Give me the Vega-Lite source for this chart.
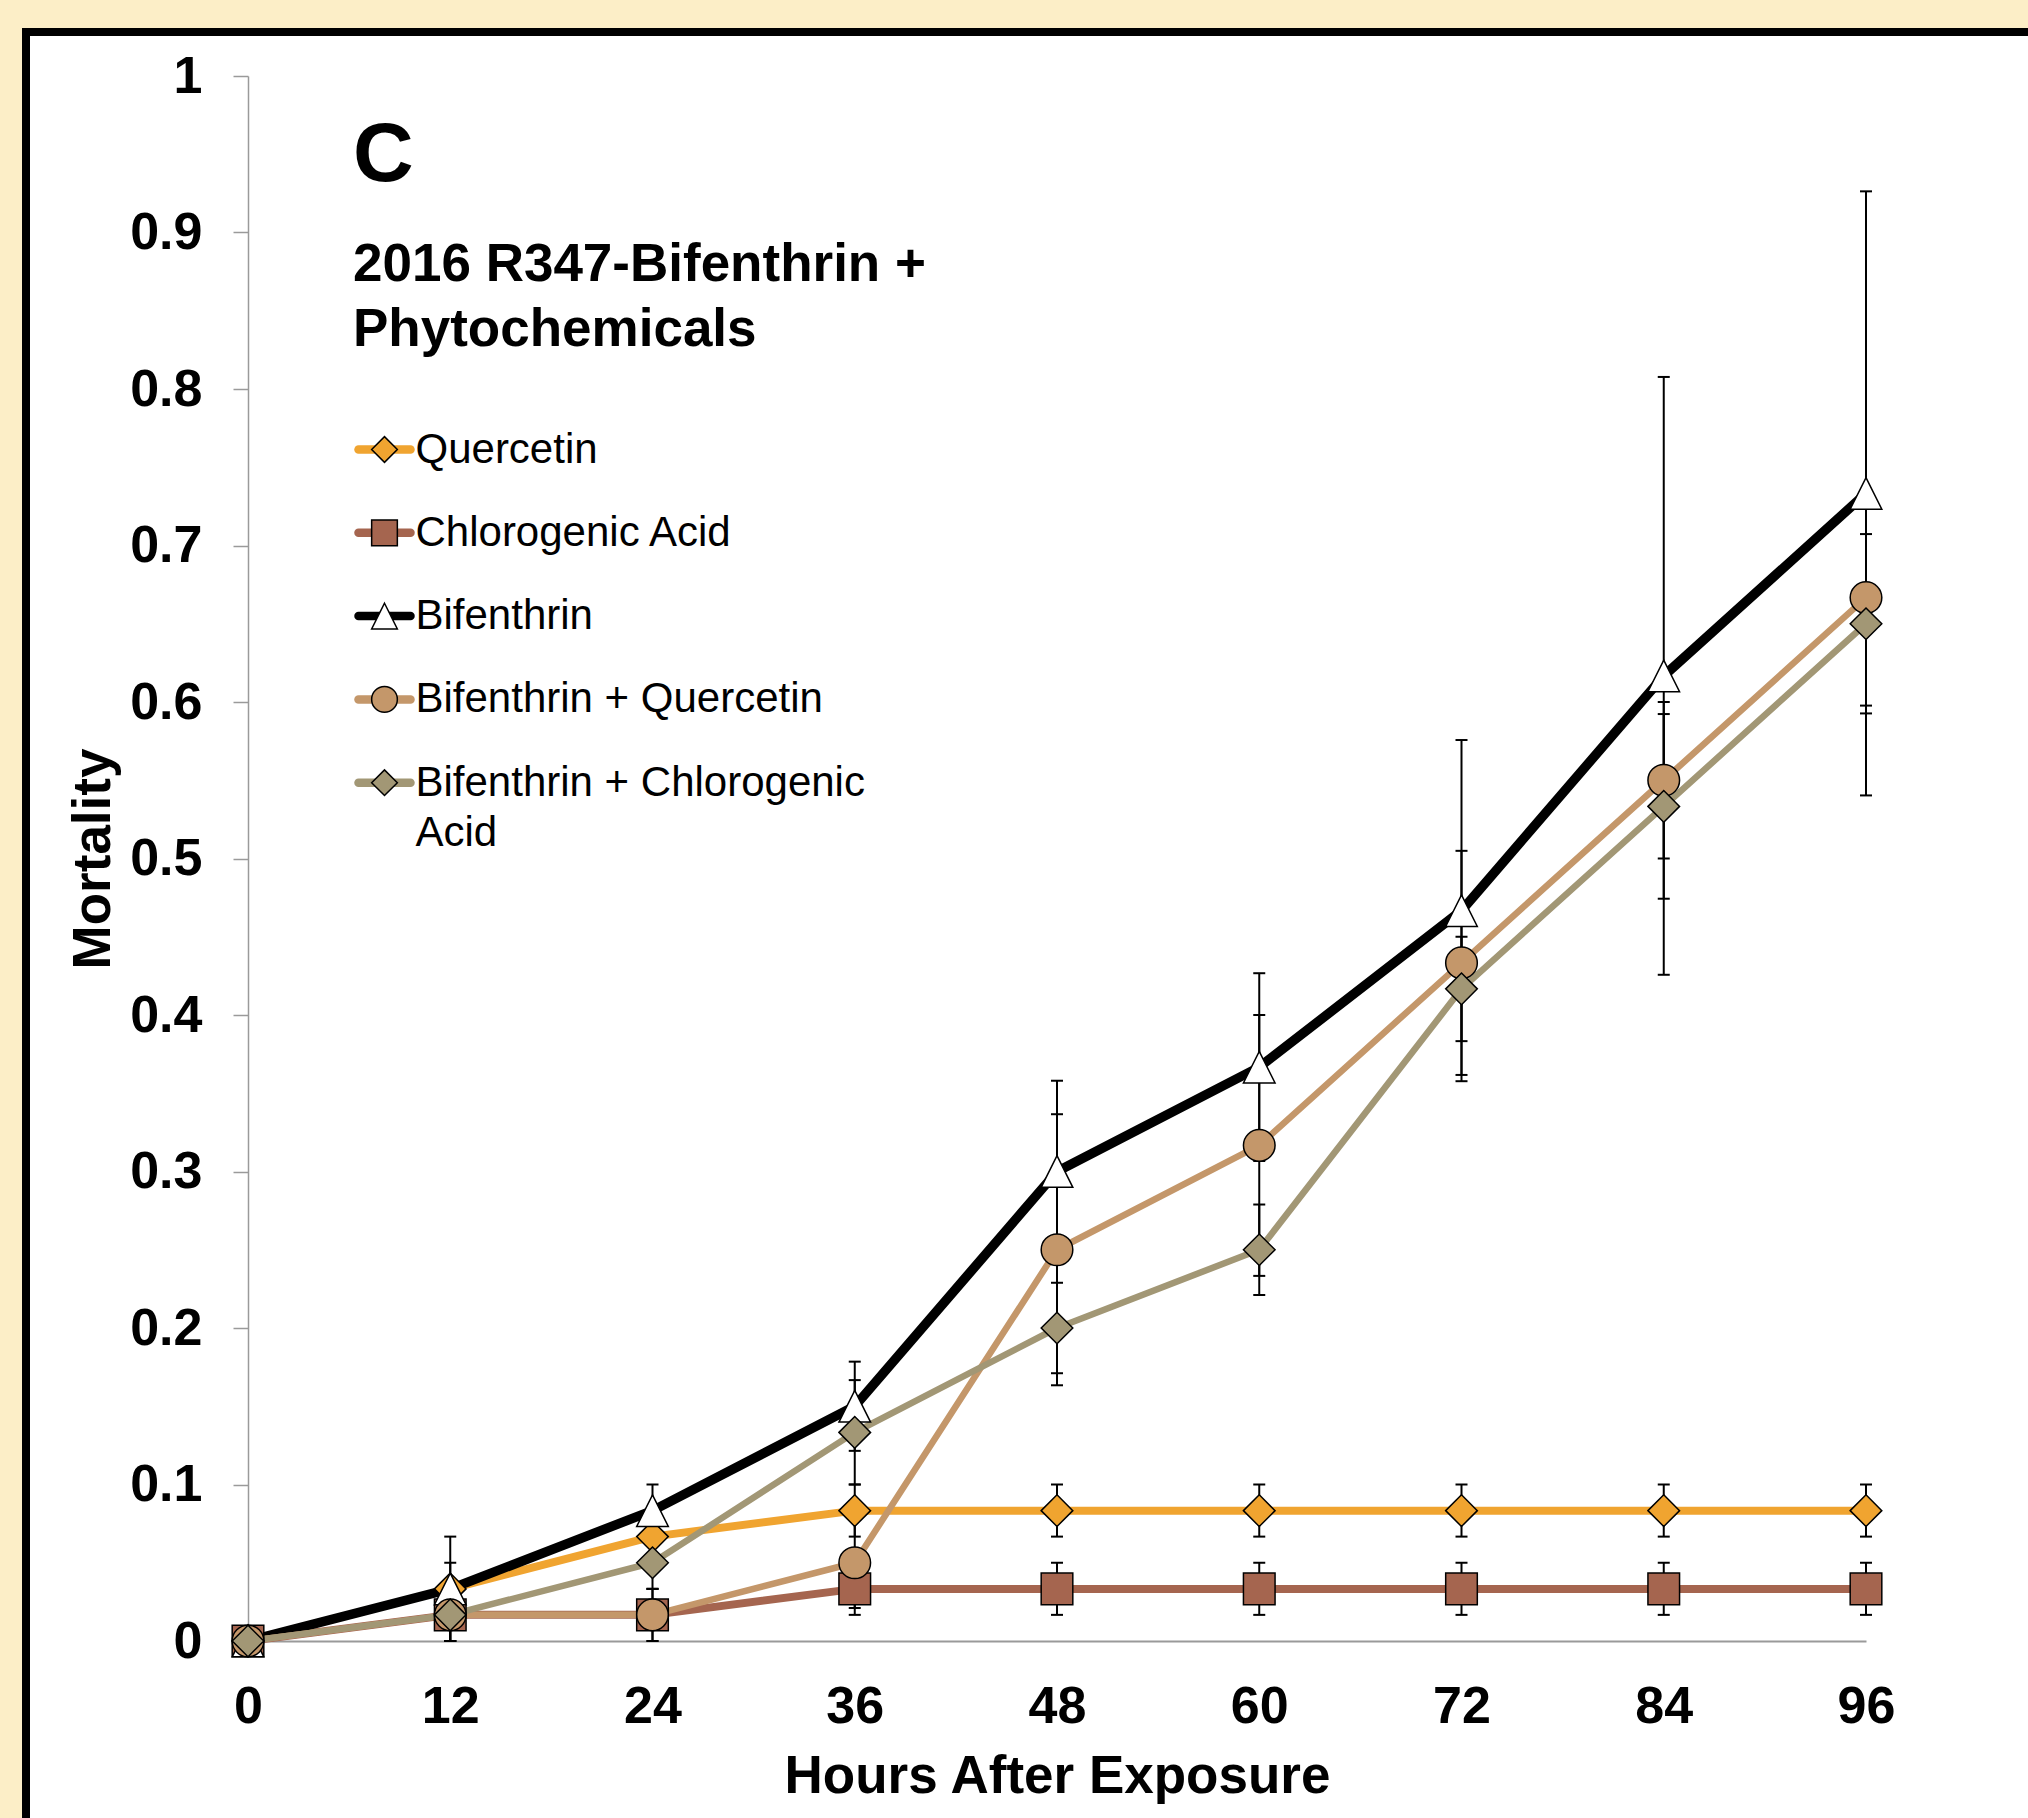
{
  "$schema": "https://vega.github.io/schema/vega-lite/v6.json",
  "autosize": {"type": "none"},
  "width": 2032,
  "height": 1816,
  "padding": {"left": 26, "top": 32, "right": -30, "bottom": -30},
  "background": "#FCEEC7",
  "title": {
    "text": "C",
    "subtitle": ["2016 R347-Bifenthrin +", "Phytochemicals"],
    "anchor": "start",
    "frame": "group",
    "orient": "top",
    "font": "Liberation Sans",
    "fontSize": 84,
    "fontWeight": "bold",
    "color": "black",
    "subtitleFont": "Liberation Sans",
    "subtitleFontSize": 53,
    "subtitleFontWeight": "bold",
    "subtitleColor": "black",
    "subtitleLineHeight": 65,
    "subtitlePadding": 40,
    "dx": 327,
    "offset": -326
  },
  "data": {
    "values": [
      {"series": "Quercetin", "hours": 0, "mortality": 0, "lo": 0, "hi": 0},
      {"series": "Quercetin", "hours": 12, "mortality": 0.0333, "lo": 0.0167, "hi": 0.05},
      {"series": "Quercetin", "hours": 24, "mortality": 0.0667, "lo": 0.05, "hi": 0.0833},
      {"series": "Quercetin", "hours": 36, "mortality": 0.0833, "lo": 0.0667, "hi": 0.1},
      {"series": "Quercetin", "hours": 48, "mortality": 0.0833, "lo": 0.0667, "hi": 0.1},
      {"series": "Quercetin", "hours": 60, "mortality": 0.0833, "lo": 0.0667, "hi": 0.1},
      {"series": "Quercetin", "hours": 72, "mortality": 0.0833, "lo": 0.0667, "hi": 0.1},
      {"series": "Quercetin", "hours": 84, "mortality": 0.0833, "lo": 0.0667, "hi": 0.1},
      {"series": "Quercetin", "hours": 96, "mortality": 0.0833, "lo": 0.0667, "hi": 0.1},
      {"series": "Chlorogenic Acid", "hours": 0, "mortality": 0, "lo": 0, "hi": 0},
      {"series": "Chlorogenic Acid", "hours": 12, "mortality": 0.0167, "lo": 0, "hi": 0.0333},
      {"series": "Chlorogenic Acid", "hours": 24, "mortality": 0.0167, "lo": 0, "hi": 0.0333},
      {"series": "Chlorogenic Acid", "hours": 36, "mortality": 0.0333, "lo": 0.0167, "hi": 0.05},
      {"series": "Chlorogenic Acid", "hours": 48, "mortality": 0.0333, "lo": 0.0167, "hi": 0.05},
      {"series": "Chlorogenic Acid", "hours": 60, "mortality": 0.0333, "lo": 0.0167, "hi": 0.05},
      {"series": "Chlorogenic Acid", "hours": 72, "mortality": 0.0333, "lo": 0.0167, "hi": 0.05},
      {"series": "Chlorogenic Acid", "hours": 84, "mortality": 0.0333, "lo": 0.0167, "hi": 0.05},
      {"series": "Chlorogenic Acid", "hours": 96, "mortality": 0.0333, "lo": 0.0167, "hi": 0.05},
      {"series": "Bifenthrin", "hours": 0, "mortality": 0, "lo": 0, "hi": 0},
      {"series": "Bifenthrin", "hours": 12, "mortality": 0.0333, "lo": 0, "hi": 0.0667},
      {"series": "Bifenthrin", "hours": 24, "mortality": 0.0833, "lo": 0.0667, "hi": 0.1},
      {"series": "Bifenthrin", "hours": 36, "mortality": 0.15, "lo": 0.1215, "hi": 0.1785},
      {"series": "Bifenthrin", "hours": 48, "mortality": 0.3, "lo": 0.242, "hi": 0.358},
      {"series": "Bifenthrin", "hours": 60, "mortality": 0.3667, "lo": 0.3067, "hi": 0.4267},
      {"series": "Bifenthrin", "hours": 72, "mortality": 0.4667, "lo": 0.3577, "hi": 0.5757},
      {"series": "Bifenthrin", "hours": 84, "mortality": 0.6167, "lo": 0.4257, "hi": 0.8077},
      {"series": "Bifenthrin", "hours": 96, "mortality": 0.7333, "lo": 0.5403, "hi": 0.9263},
      {"series": "Bifenthrin + Quercetin", "hours": 0, "mortality": 0, "lo": 0, "hi": 0},
      {"series": "Bifenthrin + Quercetin", "hours": 12, "mortality": 0.0167, "lo": 0, "hi": 0.0333},
      {"series": "Bifenthrin + Quercetin", "hours": 24, "mortality": 0.0167, "lo": 0, "hi": 0.0333},
      {"series": "Bifenthrin + Quercetin", "hours": 36, "mortality": 0.05, "lo": 0.0211, "hi": 0.0789},
      {"series": "Bifenthrin + Quercetin", "hours": 48, "mortality": 0.25, "lo": 0.1634, "hi": 0.3366},
      {"series": "Bifenthrin + Quercetin", "hours": 60, "mortality": 0.3167, "lo": 0.2333, "hi": 0.4},
      {"series": "Bifenthrin + Quercetin", "hours": 72, "mortality": 0.4333, "lo": 0.3617, "hi": 0.5049},
      {"series": "Bifenthrin + Quercetin", "hours": 84, "mortality": 0.55, "lo": 0.5, "hi": 0.6},
      {"series": "Bifenthrin + Quercetin", "hours": 96, "mortality": 0.6667, "lo": 0.5977, "hi": 0.7357},
      {"series": "Bifenthrin + Chlorogenic Acid", "hours": 0, "mortality": 0, "lo": 0, "hi": 0},
      {"series": "Bifenthrin + Chlorogenic Acid", "hours": 12, "mortality": 0.0167, "lo": 0, "hi": 0.0333},
      {"series": "Bifenthrin + Chlorogenic Acid", "hours": 24, "mortality": 0.05, "lo": 0.0333, "hi": 0.0667},
      {"series": "Bifenthrin + Chlorogenic Acid", "hours": 36, "mortality": 0.1333, "lo": 0.1, "hi": 0.1667},
      {"series": "Bifenthrin + Chlorogenic Acid", "hours": 48, "mortality": 0.2, "lo": 0.1711, "hi": 0.2289},
      {"series": "Bifenthrin + Chlorogenic Acid", "hours": 60, "mortality": 0.25, "lo": 0.2211, "hi": 0.2789},
      {"series": "Bifenthrin + Chlorogenic Acid", "hours": 72, "mortality": 0.4167, "lo": 0.3833, "hi": 0.45},
      {"series": "Bifenthrin + Chlorogenic Acid", "hours": 84, "mortality": 0.5333, "lo": 0.4743, "hi": 0.5923},
      {"series": "Bifenthrin + Chlorogenic Acid", "hours": 96, "mortality": 0.65, "lo": 0.5927, "hi": 0.7073}
    ]
  },
  "layer": [
    {
      "transform": [{"filter": {"field": "series", "oneOf": ["Quercetin", "Chlorogenic Acid"]}}],
      "mark": {"type": "line", "strokeWidth": 8, "strokeJoin": "round", "strokeCap": "round"},
      "encoding": {
        "x": {
          "field": "hours", "type": "quantitative",
          "scale": {"domain": [0, 96], "range": [222, 1840], "nice": false, "zero": false},
          "axis": {
            "orient": "bottom", "offset": -207,
            "values": [0, 12, 24, 36, 48, 60, 72, 84, 96],
            "title": "Hours After Exposure",
            "ticks": false, "grid": false,
            "labelFlush": false, "labelOverlap": false,
            "labelPadding": 40, "labelFontSize": 52, "labelFontWeight": "bold",
            "labelColor": "black", "labelFont": "Liberation Sans",
            "domainColor": "#9A9A9A", "domainWidth": 2,
            "titleFontSize": 53, "titleFontWeight": "bold", "titleColor": "black",
            "titleFont": "Liberation Sans", "titlePadding": 18
          }
        },
        "y": {
          "field": "mortality", "type": "quantitative", "title": "Mortality",
          "scale": {"domain": [0, 1], "range": [1609, 44], "nice": false, "zero": false},
          "axis": {
            "orient": "left", "offset": -222,
            "values": [0, 0.1, 0.2, 0.3, 0.4, 0.5, 0.6, 0.7, 0.8, 0.9, 1],
            "format": "~g",
            "ticks": true, "tickSize": 15, "tickColor": "#9A9A9A", "tickWidth": 1.5,
            "grid": false, "labelFlush": false, "labelOverlap": false,
            "labelPadding": 31, "labelFontSize": 52, "labelFontWeight": "bold",
            "labelColor": "black", "labelFont": "Liberation Sans",
            "domainColor": "#9A9A9A", "domainWidth": 1.5,
            "titleFontSize": 53, "titleFontWeight": "bold", "titleColor": "black",
            "titleFont": "Liberation Sans", "titlePadding": 9
          }
        },
        "stroke": {
          "field": "series", "type": "nominal",
          "scale": {
            "domain": ["Quercetin", "Chlorogenic Acid", "Bifenthrin", "Bifenthrin + Quercetin", "Bifenthrin + Chlorogenic Acid"],
            "range": ["#F0A430", "#A5654F", "#000000", "#C4976A", "#A29775"]
          },
          "legend": {
            "orient": "none", "legendX": 332, "legendY": 396.5, "direction": "vertical",
            "title": null, "padding": 0, "rowPadding": 41.3, "zindex": 1,
            "symbolType": "M-2,0L2,0", "symbolSize": 676, "symbolStrokeWidth": 8.5,
            "symbolOffset": 5.5, "labelOffset": 10,
            "labelFontSize": 42, "labelFont": "Liberation Sans", "labelColor": "black", "labelLimit": 0,
            "labelExpr": "datum.label == 'Bifenthrin + Chlorogenic Acid' ? ['Bifenthrin + Chlorogenic', 'Acid'] : datum.label",
            "encode": {
              "symbols": {"update": {"strokeCap": {"value": "round"}}},
              "labels": {"update": {"lineHeight": {"value": 50}}}
            }
          }
        }
      }
    },
    {
      "transform": [{"filter": {"field": "series", "equal": "Bifenthrin"}}],
      "mark": {"type": "line", "strokeWidth": 9.5, "strokeJoin": "round", "strokeCap": "round"},
      "encoding": {
        "x": {"field": "hours", "type": "quantitative"},
        "y": {"field": "mortality", "type": "quantitative", "title": "Mortality"},
        "stroke": {
          "field": "series", "type": "nominal",
          "scale": {
            "domain": ["Quercetin", "Chlorogenic Acid", "Bifenthrin", "Bifenthrin + Quercetin", "Bifenthrin + Chlorogenic Acid"],
            "range": ["#F0A430", "#A5654F", "#000000", "#C4976A", "#A29775"]
          }
        }
      }
    },
    {
      "transform": [{"filter": {"field": "series", "oneOf": ["Bifenthrin + Quercetin", "Bifenthrin + Chlorogenic Acid"]}}],
      "mark": {"type": "line", "strokeWidth": 6.5, "strokeJoin": "round", "strokeCap": "round"},
      "encoding": {
        "x": {"field": "hours", "type": "quantitative"},
        "y": {"field": "mortality", "type": "quantitative", "title": "Mortality"},
        "stroke": {
          "field": "series", "type": "nominal",
          "scale": {
            "domain": ["Quercetin", "Chlorogenic Acid", "Bifenthrin", "Bifenthrin + Quercetin", "Bifenthrin + Chlorogenic Acid"],
            "range": ["#F0A430", "#A5654F", "#000000", "#C4976A", "#A29775"]
          }
        }
      }
    },
    {
      "transform": [{"filter": "datum.hours > 0"}],
      "mark": {"type": "rule", "color": "black", "strokeWidth": 2},
      "encoding": {
        "x": {"field": "hours", "type": "quantitative"},
        "y": {"field": "lo", "type": "quantitative", "title": "Mortality"},
        "y2": {"field": "hi"}
      }
    },
    {
      "transform": [{"filter": "datum.hours > 0"}],
      "mark": {"type": "tick", "orient": "horizontal", "color": "black", "size": 12, "thickness": 2, "opacity": 1},
      "encoding": {
        "x": {"field": "hours", "type": "quantitative"},
        "y": {"field": "lo", "type": "quantitative", "title": "Mortality"}
      }
    },
    {
      "transform": [{"filter": "datum.hours > 0"}],
      "mark": {"type": "tick", "orient": "horizontal", "color": "black", "size": 12, "thickness": 2, "opacity": 1},
      "encoding": {
        "x": {"field": "hours", "type": "quantitative"},
        "y": {"field": "hi", "type": "quantitative", "title": "Mortality"}
      }
    },
    {
      "mark": {"type": "point", "filled": true, "size": 1000, "stroke": "black", "strokeWidth": 1.5, "opacity": 1},
      "encoding": {
        "x": {"field": "hours", "type": "quantitative"},
        "y": {"field": "mortality", "type": "quantitative", "title": "Mortality"},
        "fill": {
          "field": "series", "type": "nominal", "sort": null,
          "scale": {"range": ["#F0A430", "#A5654F", "#FFFFFF", "#C4976A", "#A29775"]},
          "legend": {
            "orient": "none", "legendX": 332, "legendY": 396.5, "direction": "vertical",
            "title": null, "padding": 0, "rowPadding": 41.3, "zindex": 2,
            "symbolSize": 660,
            "symbolOffset": 5.5, "labelOffset": 10, "labelOpacity": 0,
            "labelFontSize": 42, "labelFont": "Liberation Sans", "labelColor": "black", "labelLimit": 0,
            "labelExpr": "' '"
          }
        },
        "shape": {
          "field": "series", "type": "nominal", "sort": null,
          "scale": {"range": ["diamond", "square", "M0,-1L1,1L-1,1Z", "circle", "diamond"]},
          "legend": {
            "orient": "none", "legendX": 332, "legendY": 396.5, "direction": "vertical",
            "title": null, "padding": 0, "rowPadding": 41.3, "zindex": 2,
            "symbolSize": 660,
            "symbolOffset": 5.5, "labelOffset": 10, "labelOpacity": 0,
            "labelFontSize": 42, "labelFont": "Liberation Sans", "labelColor": "black", "labelLimit": 0,
            "labelExpr": "' '"
          }
        }
      }
    }
  ],
  "config": {
    "font": "Liberation Sans",
    "view": {"fill": "white", "stroke": "black", "strokeWidth": 8}
  }
}
